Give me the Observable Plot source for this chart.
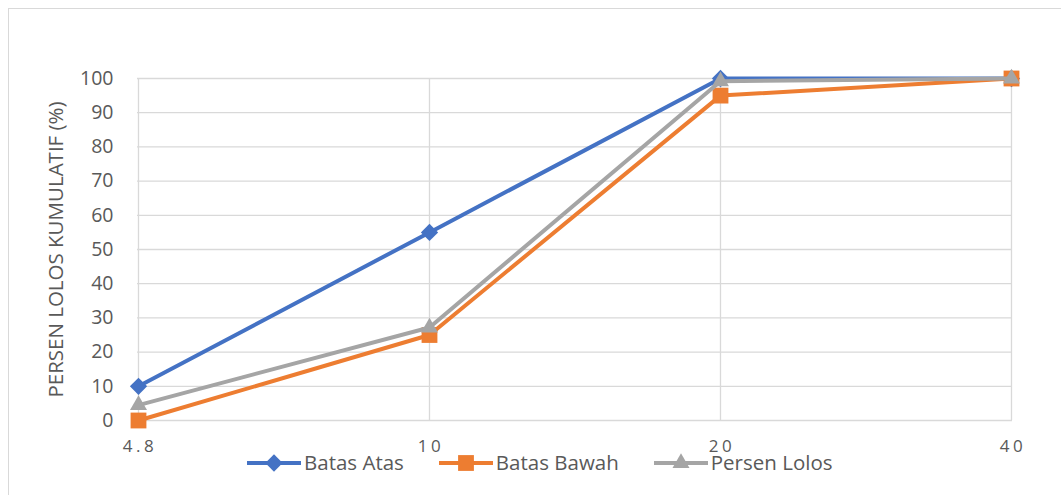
<!DOCTYPE html>
<html>
<head>
<meta charset="utf-8">
<script src="https://cdn.jsdelivr.net/npm/d3@7"></script>
<script src="https://cdn.jsdelivr.net/npm/@observablehq/plot@0.6"></script>
<style>
  html, body { margin: 0; padding: 0; background: #fff; overflow: hidden; }
  #wrap { position: relative; width: 1061px; height: 495px; font-family: "Open Sans", sans-serif; }
  #frame { position: absolute; left: 8px; top: 8px; width: 1100px; height: 600px; border: 1px solid #d9d9d9; box-sizing: border-box; }
  #chart { position: absolute; left: 0; top: 0; }
  #legend { position: absolute; left: 247px; top: 449px; display: flex; align-items: center; font-size: 20.5px; line-height: 27px; color: #595959; }
  .item { display: flex; align-items: center; margin-right: 35px; }
  .item svg { margin-right: 3px; }
</style>
</head>
<body>
<div id="wrap">
  <div id="frame"></div>
  <div id="chart"></div>
  <div id="legend"></div>
</div>
<script>
const sizes = ["4.8", "10", "20", "40"];
const seriesNames = ["Batas Atas", "Batas Bawah", "Persen Lolos"];
const batasAtas = [10, 55, 100, 100];
const batasBawah = [0, 25, 95, 100];
const persenLolos = [4.5, 27.2, 99.2, 100];
const colors = ["#4472C4", "#ED7D31", "#A5A5A5"];
const yTicks = [0, 10, 20, 30, 40, 50, 60, 70, 80, 90, 100];

const valuesBySeries = [batasAtas, batasBawah, persenLolos];
const symbolTypes = [d3.symbolDiamond2, d3.symbolSquare, d3.symbolTriangle];
const symbolSizes = [190, 250, 125];

const data = [];
seriesNames.forEach((s, i) => {
  sizes.forEach((x, j) => data.push({series: s, x, y: valuesBySeries[i][j]}));
});

const marks = [
  Plot.gridX(sizes, {stroke: "#d9d9d9", strokeOpacity: 1, strokeWidth: 1.3}),
  Plot.gridY(yTicks, {stroke: "#d9d9d9", strokeOpacity: 1, strokeWidth: 1.3}),
  Plot.axisY({ticks: yTicks, tickSize: 0, tickPadding: 24, fontSize: 19.5, fill: "#595959",
    label: "PERSEN LOLOS KUMULATIF (%)", labelAnchor: "center", labelArrow: "none", labelOffset: 89}),
  Plot.axisX({tickSize: 0, tickPadding: 19, fill: "#595959", label: null})
];
seriesNames.forEach((s, i) => {
  const d = data.filter(r => r.series === s);
  marks.push(Plot.line(d, {x: "x", y: "y", stroke: colors[i], strokeWidth: 4}));
  marks.push(Plot.dot(d, {x: "x", y: "y", fill: colors[i], symbol: symbolTypes[i],
    r: Math.sqrt(symbolSizes[i] / Math.PI), stroke: "none"}));
});

const chart = Plot.plot({
  width: 1061,
  height: 495,
  marginLeft: 137,
  marginRight: 49,
  marginTop: 78,
  marginBottom: 75,
  style: {fontFamily: "'Open Sans', sans-serif", background: "transparent", overflow: "visible"},
  x: {type: "point", domain: sizes, padding: 0},
  y: {domain: [0, 100]},
  marks
});
chart.querySelectorAll('[aria-label="y-axis label"] text').forEach(t => {
  t.setAttribute("font-size", "20.5"); t.style.fontSize = "20.5px"; t.setAttribute("fill", "#595959");
});
chart.querySelectorAll('[aria-label="x-axis tick label"]').forEach(g => {
  g.setAttribute("font-size", "17"); g.style.fontSize = "17px";
  g.querySelectorAll("text").forEach(t => {
    t.style.fontSize = "17px"; t.style.letterSpacing = "3.5px"; t.setAttribute("dx", "1.5");
  });
});
document.getElementById("chart").appendChild(chart);

const legend = document.getElementById("legend");
seriesNames.forEach((s, i) => {
  const item = document.createElement("div");
  item.className = "item";
  const sw = d3.create("svg").attr("width", 54).attr("height", 20);
  sw.append("line").attr("x1", 0).attr("x2", 54).attr("y1", 10).attr("y2", 10).attr("stroke", colors[i]).attr("stroke-width", 4);
  sw.append("path").attr("d", d3.symbol().type(symbolTypes[i]).size(symbolSizes[i])()).attr("transform", "translate(27,10)").attr("fill", colors[i]);
  item.appendChild(sw.node());
  const label = document.createElement("span");
  label.textContent = s;
  item.appendChild(label);
  legend.appendChild(item);
});
</script>
</body>
</html>
